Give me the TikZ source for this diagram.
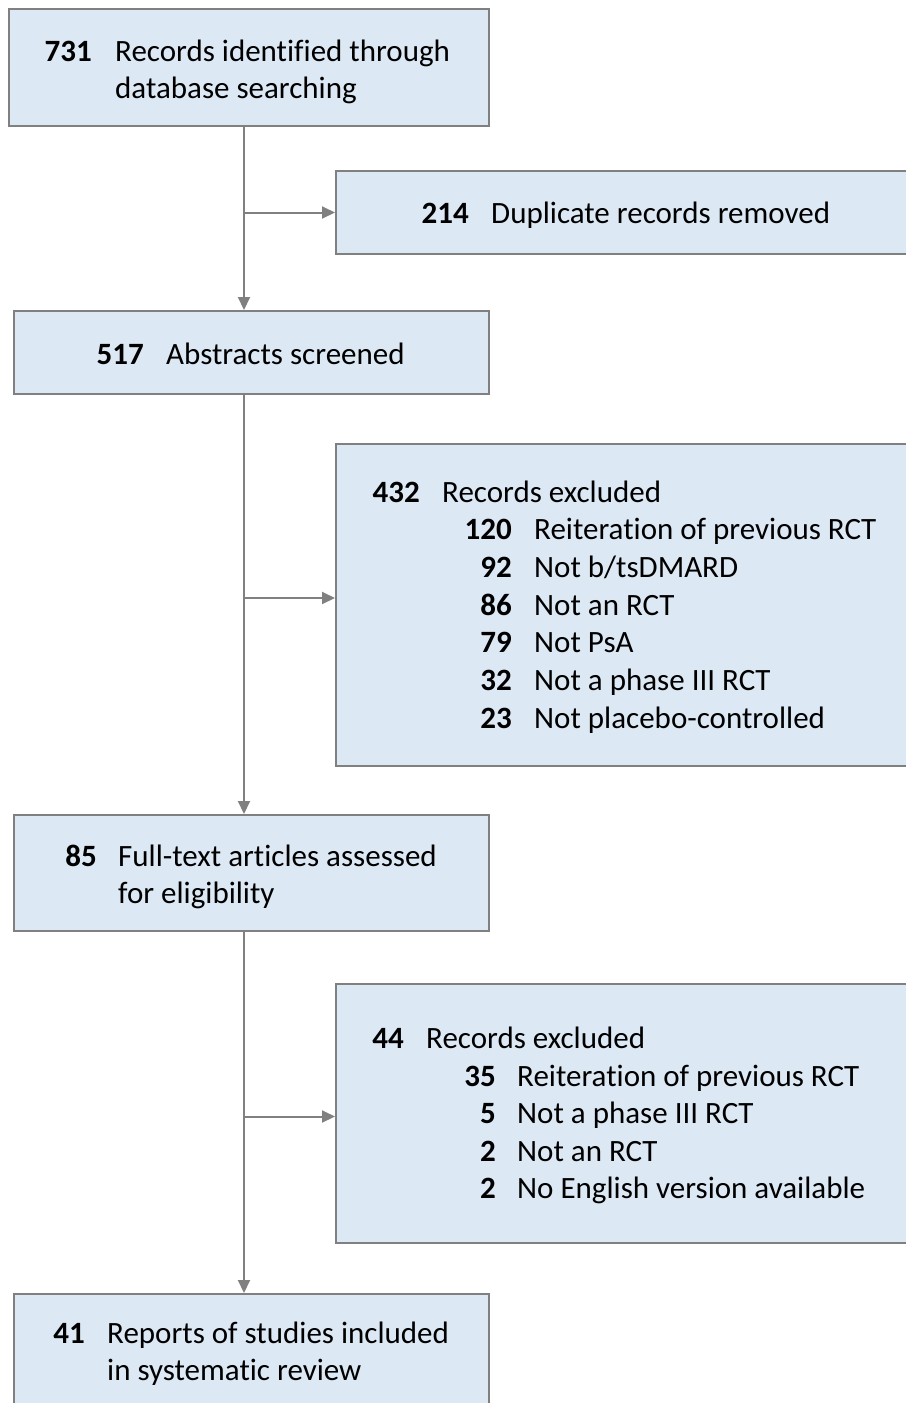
\documentclass[tikz,border=0pt]{standalone}
\usepackage{fontspec}
\setmainfont[Ligatures = NoCommon]{Carlito}
\usetikzlibrary{arrows.meta}
\definecolor{boxfill}{HTML}{DCE8F4}
\definecolor{linegray}{HTML}{808080}
\tikzset{box/.style={draw = linegray, fill = boxfill, line width = 2pt,
  rectangle, anchor = north west, inner sep = 0pt},
  txt/.style={inner sep = 0pt, anchor = base west, font = \fontsize{31}{37}\selectfont},
  num/.style={inner sep = 0pt, anchor = base east, font = \fontsize{31}{37}\selectfont\bfseries},
  flow/.style={draw = linegray, line width = 2pt, -{Triangle[length=13pt, width=12pt]}}}

\begin{document}
\begin{tikzpicture}[x = 1pt, y = -1pt]
	\useasboundingbox (0,0) rectangle (905,1403);
	
	\node[box, minimum width = 480, minimum height = 117] (b1) at (8,8) {};
	\node[box, minimum width = 580, minimum height = 83] (b2) at (335,170) {};
	\node[box, minimum width = 475, minimum height = 83] (b3) at (13,310) {};
	\node[box, minimum width = 580, minimum height = 322] (b4) at (335,443) {};
	\node[box, minimum width = 475, minimum height = 116] (b5) at (13,814) {};
	\node[box, minimum width = 580, minimum height = 259] (b6) at (335,983) {};
	\node[box, minimum width = 475, minimum height = 130] (b7) at (13,1293) {};
	
	\coordinate (spine) at (244,0);
	
	\draw[flow] (b1.south -| spine) -- (b3.north -| spine);
	\draw[flow] (b2.west -| spine) -- (b2.west);
	
	\draw[flow] (b3.south -| spine) -- (b5.north -| spine);
	\draw[flow] ([yshift = 7pt]b4.west -| spine) -- ([yshift = 7pt]b4.west);
	
	\draw[flow] (b5.south -| spine) -- (b7.north -| spine);
	\draw[flow] ([yshift = -3pt]b6.west -| spine) -- ([yshift = -3pt]b6.west);
	
	% identification
	\node[num] (n1) at (92,61) {731};
	\node[txt] (t1a) at (115,61) {Records identified through};
	\node[txt] (t1b) at (115,98) {database searching};
	
	\node[num] (n2) at (469,223) {214};
	\node[txt] (t2) at (491,223) {Duplicate records removed};
	
	% screening
	\node[num] (n3) at (144,364) {517};
	\node[txt] (t3) at (166,364) {Abstracts screened};
	
	\node[num] (n4) at (420,502) {432};
	\node[txt] (t4) at (442,502) {Records excluded};
	\node[num] (n4a) at (512,539.5) {120};
	\node[txt] (t4a) at (534,539.5) {Reiteration of previous RCT};
	\node[num] (n4b) at (512,577) {92};
	\node[txt] (t4b) at (534,577) {Not b/tsDMARD};
	\node[num] (n4c) at (512,615) {86};
	\node[txt] (t4c) at (534,615) {Not an RCT};
	\node[num] (n4d) at (512,652.5) {79};
	\node[txt] (t4d) at (534,652.5) {Not PsA};
	\node[num] (n4e) at (512,690) {32};
	\node[txt] (t4e) at (534,690) {Not a phase III RCT};
	\node[num] (n4f) at (512,728) {23};
	\node[txt] (t4f) at (534,728) {Not placebo-controlled};
	
	% eligibility
	\node[num] (n5) at (97,866) {85};
	\node[txt] (t5a) at (118,866) {Full-text articles assessed};
	\node[txt] (t5b) at (118,903) {for eligibility};
	
	\node[num] (n6) at (404,1048) {44};
	\node[txt] (t6) at (426,1048) {Records excluded};
	\node[num] (n6a) at (496,1086) {35};
	\node[txt] (t6a) at (517,1086) {Reiteration of previous RCT};
	\node[num] (n6b) at (496,1123) {5};
	\node[txt] (t6b) at (517,1123) {Not a phase III RCT};
	\node[num] (n6c) at (496,1161) {2};
	\node[txt] (t6c) at (517,1161) {Not an RCT};
	\node[num] (n6d) at (496,1198) {2};
	\node[txt] (t6d) at (517,1198) {No English version available};
	
	% included
	\node[num] (n7) at (85,1343) {41};
	\node[txt] (t7a) at (107,1343) {Reports of studies included};
	\node[txt] (t7b) at (107,1380) {in systematic review};
\end{tikzpicture}
\end{document}
